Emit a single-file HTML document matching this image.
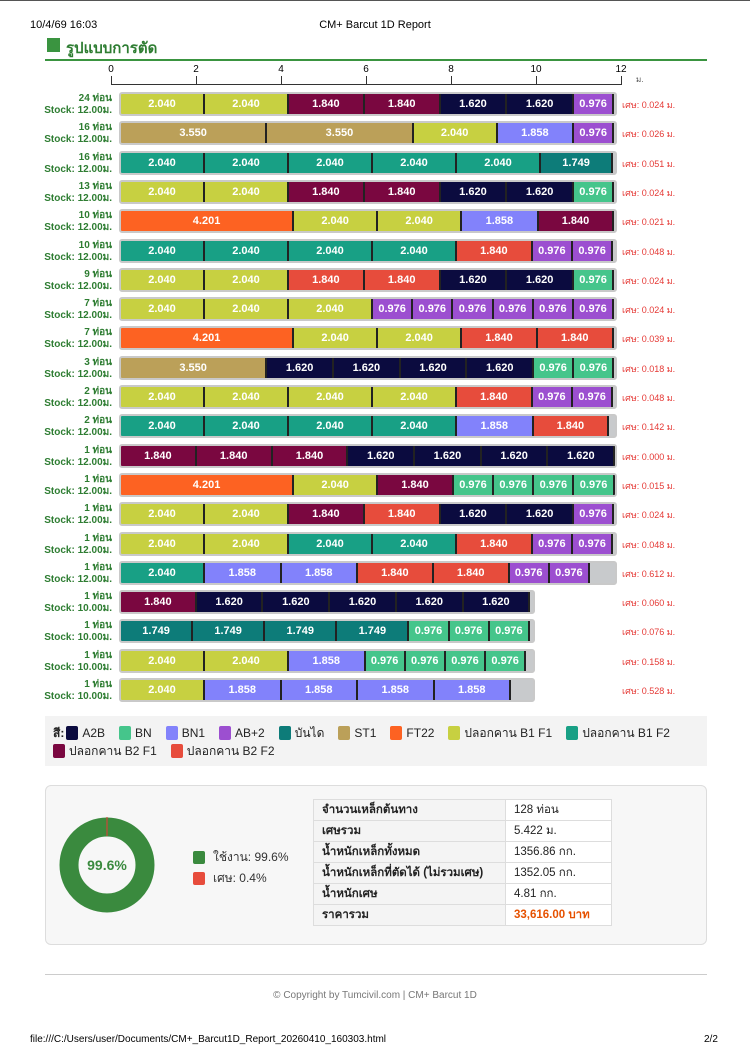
<!DOCTYPE html>
<html><head><meta charset="utf-8">
<style>
body{margin:0;width:750px;height:1061px;position:relative;background:#fff;font-family:"Liberation Sans",sans-serif;overflow:hidden}
.a{position:absolute}
.lbl{position:absolute;right:638px;text-align:right;font-size:10px;font-weight:bold;color:#2e7d32;line-height:12px}
.bar{position:absolute;left:119px;height:20px;border:2px solid #c9c9c9;border-radius:3px;background:#c8cacc;display:flex;overflow:hidden}
.p{height:20px;box-sizing:border-box;border-right:2px solid #222;color:#fff;font-weight:bold;font-size:11px;line-height:20px;text-align:center;white-space:nowrap;overflow:hidden}
.w{position:absolute;left:622px;font-size:9px;color:#e53935}
.lg{display:inline-flex;align-items:center;margin-right:14px;font-size:12px;color:#222;vertical-align:middle}
.lg i{display:inline-block;width:12px;height:14px;border-radius:2px;margin-right:4px}
table{border-collapse:collapse;font-size:11.5px;color:#222}
td{border:1px solid #ddd;height:20px;padding:0 8px;background:#fff}
td:first-child{font-weight:bold;width:175px;background:#f4f4f4}
</style></head><body>
<div class="a" style="left:0;top:0;width:750px;height:1px;background:#555"></div>
<div class="a" style="left:30px;top:19px;font-size:11px">10/4/69 16:03</div>
<div class="a" style="left:0;width:750px;top:19px;font-size:11px;text-align:center">CM+ Barcut 1D Report</div>
<div class="a" style="left:47px;top:38px;width:13px;height:14px;background:#3a9440"></div>
<div class="a" style="left:66px;top:36px;font-size:15px;font-weight:bold;color:#2e7d32">รูปแบบการตัด</div>
<div class="a" style="left:45px;top:59px;width:662px;height:2px;background:#3a9440"></div>
<div id="ax"></div>
<div id="rows"></div>
<div class="a" style="left:45px;top:716px;width:662px;height:50px;background:#f3f3f3"></div>
<div class="a" style="left:53px;top:724px;width:650px;line-height:18px" id="leg"></div>
<div class="a" style="left:45px;top:785px;width:660px;height:158px;border:1px solid #ddd;border-radius:6px;background:#f7f7f7"></div>
<svg class="a" style="left:58px;top:816px" width="100" height="100"><circle cx="49" cy="49" r="38" fill="none" stroke="#3a8a3e" stroke-width="19"/><line x1="49" y1="1" x2="49" y2="20" stroke="#e53935" stroke-width="1"/><text x="49" y="54" text-anchor="middle" font-size="14" font-weight="bold" fill="#3a8a3e" font-family="Liberation Sans">99.6%</text></svg>
<div class="a" style="left:193px;top:848px;font-size:12px;color:#333"><i style="display:inline-block;width:12px;height:13px;background:#3a8a3e;border-radius:2px;vertical-align:middle;margin-right:8px"></i>ใช้งาน: 99.6%</div>
<div class="a" style="left:193px;top:869px;font-size:12px;color:#333"><i style="display:inline-block;width:12px;height:13px;background:#e74c3c;border-radius:2px;vertical-align:middle;margin-right:8px"></i>เศษ: 0.4%</div>
<table class="a" style="left:313px;top:799px;width:299px">
<tr><td>จำนวนเหล็กต้นทาง</td><td>128 ท่อน</td></tr>
<tr><td>เศษรวม</td><td>5.422 ม.</td></tr>
<tr><td>น้ำหนักเหล็กทั้งหมด</td><td>1356.86 กก.</td></tr>
<tr><td>น้ำหนักเหล็กที่ตัดได้ (ไม่รวมเศษ)</td><td>1352.05 กก.</td></tr>
<tr><td>น้ำหนักเศษ</td><td>4.81 กก.</td></tr>
<tr><td>ราคารวม</td><td style="color:#e65100;font-weight:bold">33,616.00 บาท</td></tr>
</table>
<div class="a" style="left:45px;top:974px;width:662px;height:1px;background:#ccc"></div>
<div class="a" style="left:0;width:750px;top:990px;text-align:center;font-size:10px;color:#777">© Copyright by Tumcivil.com | CM+ Barcut 1D</div>
<div class="a" style="left:30px;top:1034px;font-size:10px">file:///C:/Users/user/Documents/CM+_Barcut1D_Report_20260410_160303.html</div>
<div class="a" style="left:704px;top:1034px;font-size:10px">2/2</div>
<script>
var C={A:'#0b0b3f',N:'#45c58b',N1:'#8282fb',AB:'#9c4fd0',S:'#0d7c79',ST:'#bba059',F:'#fd6222',Y:'#c7d041',T:'#18a085',R:'#7a0740',E:'#e74c3c'};
var rows=[
[24,12,[['Y',2.04],['Y',2.04],['R',1.84],['R',1.84],['A',1.62],['A',1.62],['AB',.976]],'0.024'],
[16,12,[['ST',3.55],['ST',3.55],['Y',2.04],['N1',1.858],['AB',.976]],'0.026'],
[16,12,[['T',2.04],['T',2.04],['T',2.04],['T',2.04],['T',2.04],['S',1.749]],'0.051'],
[13,12,[['Y',2.04],['Y',2.04],['R',1.84],['R',1.84],['A',1.62],['A',1.62],['N',.976]],'0.024'],
[10,12,[['F',4.201],['Y',2.04],['Y',2.04],['N1',1.858],['R',1.84]],'0.021'],
[10,12,[['T',2.04],['T',2.04],['T',2.04],['T',2.04],['E',1.84],['AB',.976],['AB',.976]],'0.048'],
[9,12,[['Y',2.04],['Y',2.04],['E',1.84],['E',1.84],['A',1.62],['A',1.62],['N',.976]],'0.024'],
[7,12,[['Y',2.04],['Y',2.04],['Y',2.04],['AB',.976],['AB',.976],['AB',.976],['AB',.976],['AB',.976],['AB',.976]],'0.024'],
[7,12,[['F',4.201],['Y',2.04],['Y',2.04],['E',1.84],['E',1.84]],'0.039'],
[3,12,[['ST',3.55],['A',1.62],['A',1.62],['A',1.62],['A',1.62],['N',.976],['N',.976]],'0.018'],
[2,12,[['Y',2.04],['Y',2.04],['Y',2.04],['Y',2.04],['E',1.84],['AB',.976],['AB',.976]],'0.048'],
[2,12,[['T',2.04],['T',2.04],['T',2.04],['T',2.04],['N1',1.858],['E',1.84]],'0.142'],
[1,12,[['R',1.84],['R',1.84],['R',1.84],['A',1.62],['A',1.62],['A',1.62],['A',1.62]],'0.000'],
[1,12,[['F',4.201],['Y',2.04],['R',1.84],['N',.976],['N',.976],['N',.976],['N',.976]],'0.015'],
[1,12,[['Y',2.04],['Y',2.04],['R',1.84],['E',1.84],['A',1.62],['A',1.62],['AB',.976]],'0.024'],
[1,12,[['Y',2.04],['Y',2.04],['T',2.04],['T',2.04],['E',1.84],['AB',.976],['AB',.976]],'0.048'],
[1,12,[['T',2.04],['N1',1.858],['N1',1.858],['E',1.84],['E',1.84],['AB',.976],['AB',.976]],'0.612'],
[1,10,[['R',1.84],['A',1.62],['A',1.62],['A',1.62],['A',1.62],['A',1.62]],'0.060'],
[1,10,[['S',1.749],['S',1.749],['S',1.749],['S',1.749],['N',.976],['N',.976],['N',.976]],'0.076'],
[1,10,[['Y',2.04],['Y',2.04],['N1',1.858],['N',.976],['N',.976],['N',.976],['N',.976]],'0.158'],
[1,10,[['Y',2.04],['N1',1.858],['N1',1.858],['N1',1.858],['N1',1.858]],'0.528']];
var k=41.2,h='';
rows.forEach(function(r,i){var y=94+i*29.3;
h+='<div class="lbl" style="top:'+(y-1)+'px">'+r[0]+' ท่อน<br>Stock: '+r[1].toFixed(2)+'ม.</div>';
h+='<div class="bar" style="top:'+(y-2)+'px;width:'+(r[1]*k)+'px">';
r[2].forEach(function(p){h+='<div class="p" style="flex:none;width:'+(p[1]*k).toFixed(1)+'px;background:'+C[p[0]]+'">'+p[1].toFixed(3)+'</div>'});
h+='</div><div class="w" style="top:'+(y+4)+'px">เศษ: '+r[3]+' ม.</div>';});
document.getElementById('rows').innerHTML=h;
var a='<div class="a" style="left:111px;top:84px;width:510px;height:1px;background:#333"></div>';
for(var i=0;i<=6;i++){var x=111+i*85;a+='<div class="a" style="left:'+x+'px;top:76px;width:1px;height:9px;background:#333"></div><div class="a" style="left:'+(x-10)+'px;width:20px;text-align:center;top:64px;font-size:10px">'+(i*2)+'</div>';}
a+='<div class="a" style="left:636px;top:73px;font-size:8px;color:#555">ม.</div>';
document.getElementById('ax').innerHTML=a;
var L=[['A','A2B'],['N','BN'],['N1','BN1'],['AB','AB+2'],['S','บันได'],['ST','ST1'],['F','FT22'],['Y','ปลอกคาน B1 F1'],['T','ปลอกคาน B1 F2'],['R','ปลอกคาน B2 F1'],['E','ปลอกคาน B2 F2']];
var g='<span class="lg" style="margin-right:2px"><b>สี:</b></span>';
L.forEach(function(l){g+='<span class="lg"><i style="background:'+C[l[0]]+'"></i>'+l[1]+'</span>'});
document.getElementById('leg').innerHTML=g;
</script>
</body></html>
